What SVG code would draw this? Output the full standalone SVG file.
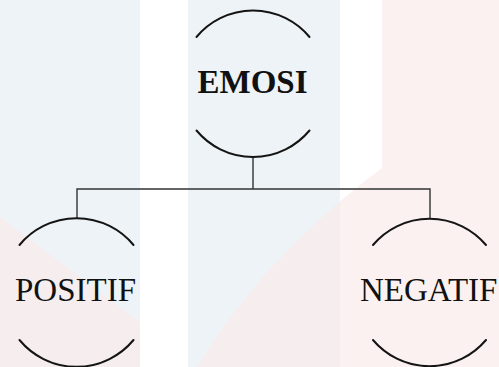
<svg xmlns="http://www.w3.org/2000/svg" width="499" height="367" viewBox="0 0 499 367">
<style>
.arc{fill:none;stroke:#141414;stroke-width:2;stroke-linecap:round}
.conn{fill:none;stroke:#333;stroke-width:1.4}
.lbl{font-family:"Liberation Serif","Times New Roman",serif;font-size:33px;fill:#111;text-anchor:middle}
.b{font-weight:bold}
</style>
<rect width="499" height="367" fill="#fff"/>
<g id="watermark">
<rect x="0" y="0" width="140" height="367" fill="#eef3f7"/>
<rect x="188" y="0" width="152" height="367" fill="#eef3f7"/>
<path d="M382,0 H499 V367 H197 Q262,258 382,168 Z" fill="#fbeaea" opacity="0.65"/>
<path d="M0,217 L140,322 V367 H0 Z" fill="#fbeaea" opacity="0.65"/>
</g>
<g id="connectors">
<path class="conn" d="M253,158 V189 M77,218 V189 H430 V218"/>
</g>
<g id="emosi">
<path class="arc" d="M196.5,37 A73.5,73.5 0 0 1 309.5,37"/>
<path class="arc" d="M196.5,130.5 A73.5,73.5 0 0 0 309.5,130.5"/>
<text class="lbl b" x="252.5" y="93">EMOSI</text>
</g>
<g id="positif">
<path class="arc" d="M19.5,245 A74,74 0 0 1 133.5,245"/>
<path class="arc" d="M19.5,340 A74,74 0 0 0 133.5,340"/>
<text class="lbl" x="75.5" y="301">POSITIF</text>
</g>
<g id="negatif">
<path class="arc" d="M373,245 A74,74 0 0 1 486,245"/>
<path class="arc" d="M373,340 A74,74 0 0 0 486,340"/>
<text class="lbl" x="428.7" y="301">NEGATIF</text>
</g>
</svg>
